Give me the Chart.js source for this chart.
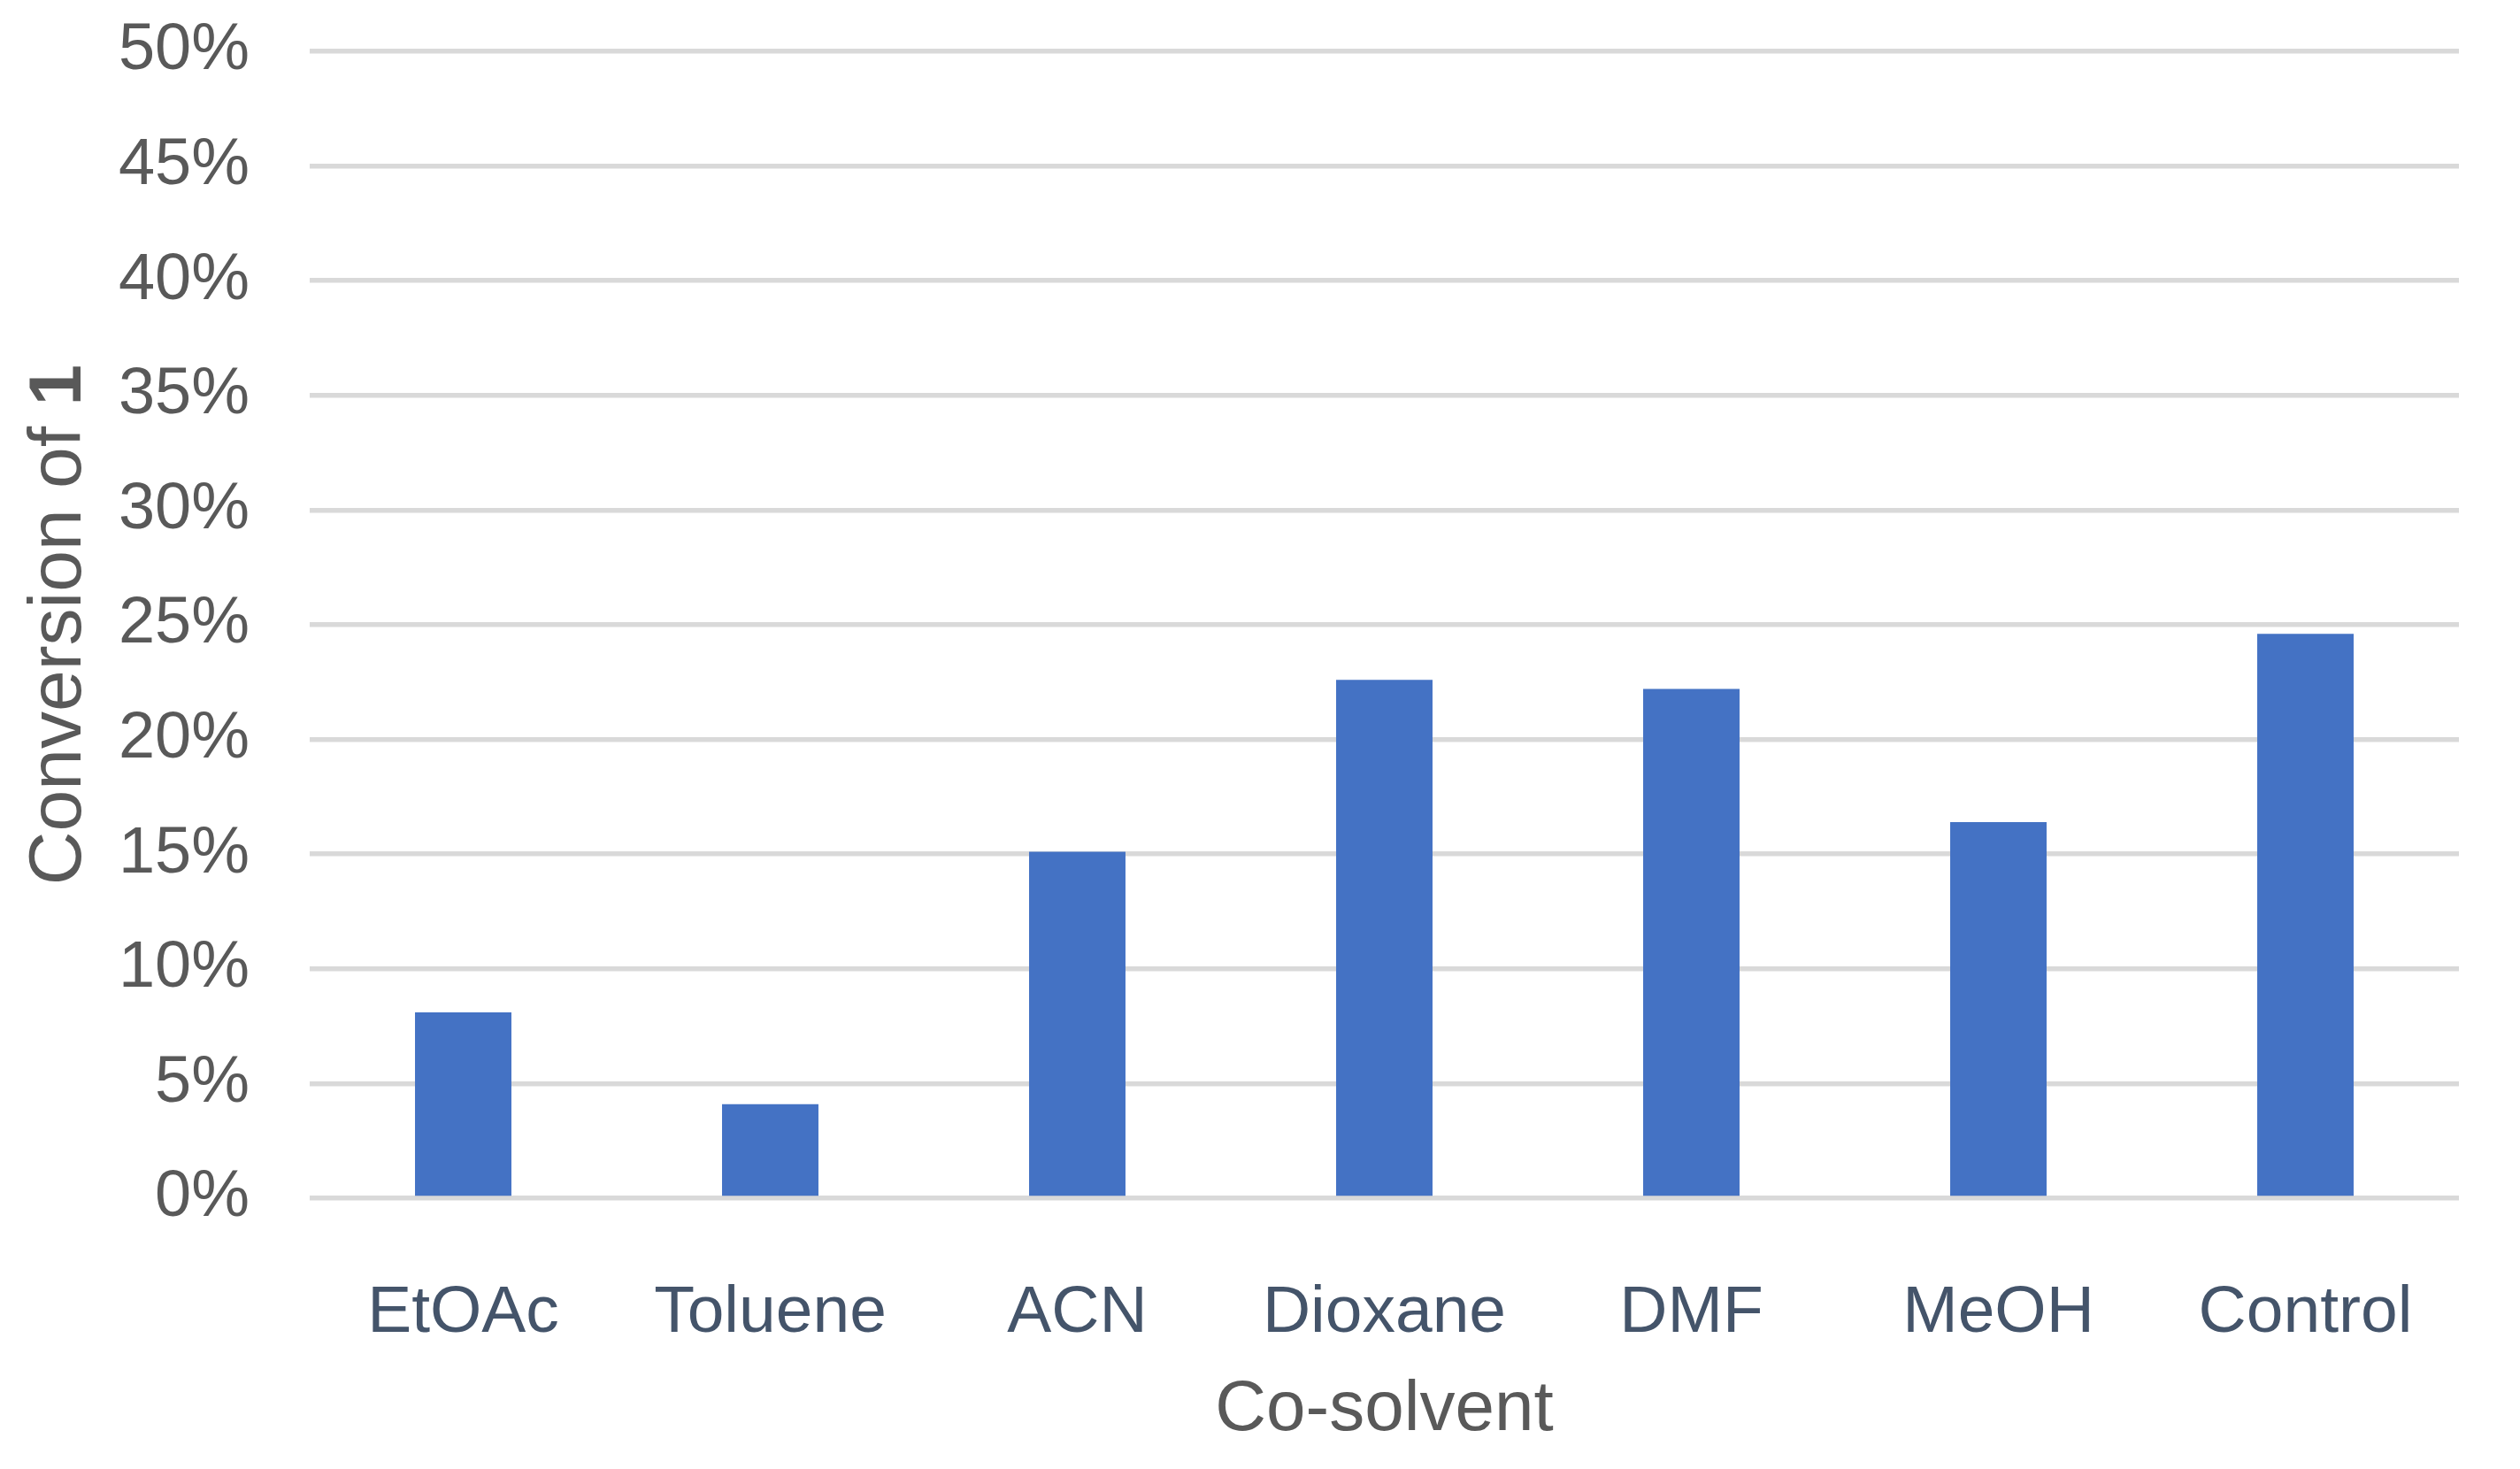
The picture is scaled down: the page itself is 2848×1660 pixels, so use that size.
<!DOCTYPE html>
<html>
<head>
<meta charset="utf-8">
<script src="https://cdn.jsdelivr.net/npm/chart.js@4"></script>
<style>
  html, body { margin: 0; padding: 0; background: #fff; }
  #wrap { width: 2848px; height: 1660px; }
</style>
</head>
<body>
<div id="wrap"><canvas id="conversionChart" width="2848" height="1660"></canvas></div>
<script>
// Дані з графіка
const solvents = ['EtOAc', 'Toluene', 'ACN', 'Dioxane', 'DMF', 'MeOH', 'Control'];
const conversion = [8.1, 4.1, 15.1, 22.6, 22.2, 16.4, 24.6];
const yTicks = [0, 5, 10, 15, 20, 25, 30, 35, 40, 45, 50];
const xTitle = 'Co-solvent';
const yTitle = 'Conversion of ';
const yTitleBold = '1';

const FONT = '"Liberation Sans", Arial, sans-serif';

// Назва осі Y: "Conversion of" звичайним, "1" жирним
const yTitlePlugin = {
  id: 'yTitle',
  afterDraw(chart) {
    const { ctx, chartArea } = chart;
    const cy = (chartArea.top + chartArea.bottom) / 2;
    ctx.save();
    ctx.translate(68, cy);
    ctx.rotate(-Math.PI / 2);
    ctx.fillStyle = '#595959';
    ctx.textBaseline = 'middle';
    ctx.font = `84px ${FONT}`;
    const w1 = ctx.measureText(yTitle).width;
    ctx.font = `bold 84px ${FONT}`;
    const w2 = ctx.measureText(yTitleBold).width;
    const start = -(w1 + w2) / 2;
    ctx.textAlign = 'left';
    ctx.font = `84px ${FONT}`;
    ctx.fillText(yTitle, start, 0);
    ctx.font = `bold 84px ${FONT}`;
    ctx.fillText(yTitleBold, start + w1, 0);
    ctx.restore();
  }
};

new Chart(document.getElementById('conversionChart'), {
  type: 'bar',
  data: {
    labels: solvents,
    datasets: [{
      label: 'Conversion',
      data: conversion,
      backgroundColor: '#4472c4',
      borderWidth: 0,
      categoryPercentage: 1,
      barPercentage: 0.314
    }]
  },
  options: {
    responsive: false,
    animation: false,
    layout: { padding: { top: 58, right: 69, left: 0, bottom: 0 } },
    scales: {
      x: {
        grid: { display: false, drawTicks: false },
        border: { display: false },
        ticks: {
          color: '#44546a',
          padding: 85,
          font: { family: FONT, size: 75 }
        },
        title: {
          display: true,
          text: xTitle,
          color: '#595959',
          padding: { top: 0, bottom: 18 },
          font: { family: FONT, size: 80 }
        },
        afterFit(scale) {
          scale.height = 306;
          scale.paddingLeft = 0;
          scale.paddingRight = 0;
        }
      },
      y: {
        min: 0,
        max: 50,
        afterBuildTicks(scale) {
          scale.ticks = yTicks.map(v => ({ value: v }));
        },
        grid: { color: '#d9d9d9', lineWidth: 5.5, drawTicks: false },
        border: { display: false },
        ticks: {
          color: '#595959',
          padding: 68,
          font: { family: FONT, size: 74 },
          callback: v => v + '%'
        },
        afterFit(scale) {
          scale.width = 350;
          scale.paddingTop = 0;
          scale.paddingBottom = 0;
        }
      }
    },
    plugins: {
      legend: { display: false },
      tooltip: { enabled: false },
      title: { display: false }
    }
  },
  plugins: [yTitlePlugin]
});
</script>
</body>
</html>
